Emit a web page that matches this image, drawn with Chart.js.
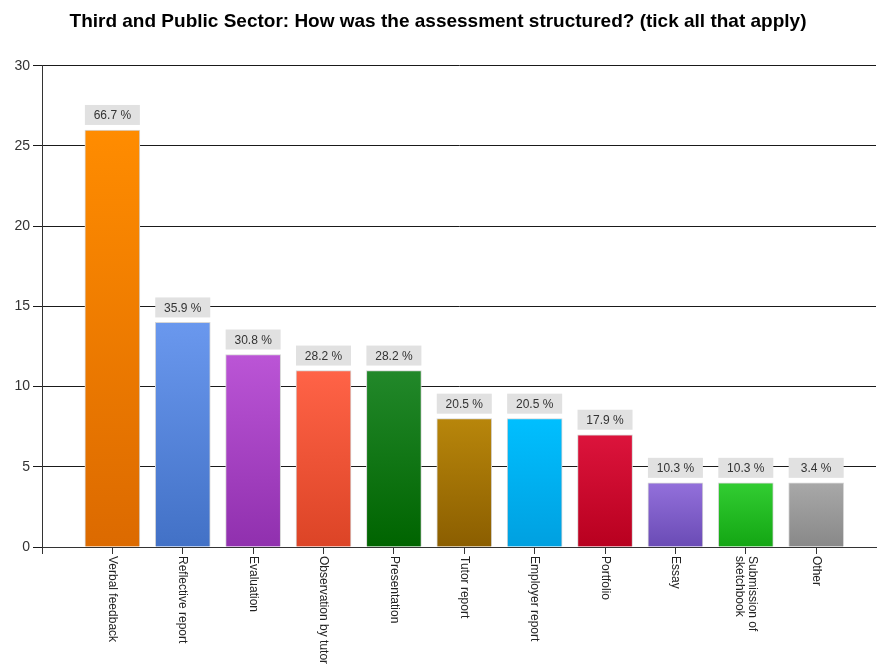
<!DOCTYPE html>
<html>
<head>
<meta charset="utf-8">
<script src="https://cdn.jsdelivr.net/npm/chart.js@4.4.1/dist/chart.umd.min.js"></script>
<style>
html,body{margin:0;padding:0;background:#fff}
#wrap{width:878px;height:669px}
</style>
</head>
<body>
<div id="wrap"><canvas id="chartEval" width="878" height="669"></canvas></div>
<script>
// --- Datos ---
var categorias=['Verbal feedback','Reflective report','Evaluation','Observation by tutor','Presentation','Tutor report','Employer report','Portfolio','Essay',['Submission of','sketchbook'],'Other'];
var respuestas=[26,14,12,11,11,8,8,7,4,4,4];
var porcentajes=['66.7 %','35.9 %','30.8 %','28.2 %','28.2 %','20.5 %','20.5 %','17.9 %','10.3 %','10.3 %','3.4 %'];
var coloresTop=['#ff8c00','#6a98ee','#bb55d6','#ff6347','#22882a','#b8860b','#00bfff','#dc143c','#9370db','#32cd32','#a8a8a8'];
var coloresBottom=['#dc6a00','#4271c6','#9030ae','#dc4426','#006400','#8b5e00','#00a0e0','#b8001f','#6a4bb5','#13a613','#888888'];
var yTicks=[0,5,10,15,20,25,30];

var FUENTE='"Liberation Sans", Arial, sans-serif';

function gradienteBarra(c){
  var chart=c.chart,i=c.dataIndex;
  if(!chart.chartArea||i===undefined)return coloresTop[i||0];
  var y=chart.scales.y;
  var g=chart.ctx.createLinearGradient(0,y.getPixelForValue(respuestas[i]),0,y.getPixelForValue(0));
  g.addColorStop(0,coloresTop[i]);
  g.addColorStop(1,coloresBottom[i]);
  return g;
}

// etiquetas de porcentaje sobre cada barra
var pluginEtiquetas={
  id:'etiquetas',
  afterDatasetsDraw:function(chart){
    var ctx=chart.ctx,meta=chart.getDatasetMeta(0);
    ctx.save();
    ctx.font='12px '+FUENTE;
    ctx.textAlign='center';ctx.textBaseline='middle';
    meta.data.forEach(function(b,i){
      var w=55,h=20,top=b.y-25;
      ctx.fillStyle='#e1e1e1';
      ctx.fillRect(b.x-w/2,top,w,h);
      ctx.fillStyle='#333';
      ctx.fillText(porcentajes[i],b.x,top+h/2+1);
    });
    ctx.restore();
  }
};

// nombres de categoria girados en sentido horario bajo el eje
var pluginCategorias={
  id:'categorias',
  afterDraw:function(chart){
    var ctx=chart.ctx,x=chart.scales.x,base=chart.chartArea.bottom+9;
    ctx.save();
    ctx.font='12px '+FUENTE;
    ctx.fillStyle='#222';
    ctx.textAlign='left';ctx.textBaseline='middle';
    categorias.forEach(function(c,i){
      var lineas=Array.isArray(c)?c:[c];
      var px=x.getPixelForValue(i+1);
      ctx.save();
      ctx.translate(px,base);
      ctx.rotate(Math.PI/2);
      lineas.forEach(function(l,k){
        var off=(k-(lineas.length-1)/2)*13;
        ctx.fillText(l,0,off);
      });
      ctx.restore();
    });
    ctx.restore();
  }
};

new Chart(document.getElementById('chartEval'),{
  type:'bar',
  data:{
    datasets:[{
      data:respuestas.map(function(v,i){return{x:i+1,y:v};}),
      backgroundColor:gradienteBarra,
      borderColor:'#d6d6d6',
      borderWidth:1,
      barThickness:55
    }]
  },
  options:{
    responsive:false,
    animation:false,
    devicePixelRatio:1,
    layout:{padding:{left:0,right:2,top:0,bottom:0}},
    plugins:{
      legend:{display:false},
      tooltip:{enabled:false},
      title:{display:true,text:'Third and Public Sector: How was the assessment structured? (tick all that apply)',
        color:'#000',font:{family:FUENTE,size:19,weight:'bold'},padding:{top:10,bottom:33}}
    },
    scales:{
      x:{
        type:'linear',min:0,max:11.85,offset:false,
        afterBuildTicks:function(s){s.ticks=[0,1,2,3,4,5,6,7,8,9,10,11].map(function(v){return{value:v};});},
        afterFit:function(s){s.height=122;},
        ticks:{callback:function(){return '';},autoSkip:false,maxRotation:0},
        grid:{display:true,offset:false,drawOnChartArea:false,drawTicks:true,tickLength:7,color:'#333'},
        border:{display:true,color:'#333',width:1}
      },
      y:{
        min:0,max:30,
        afterBuildTicks:function(s){s.ticks=yTicks.map(function(v){return{value:v};});},
        afterFit:function(s){s.width=42;},
        ticks:{color:'#333',font:{family:FUENTE,size:14},padding:3},
        grid:{color:'#1a1a1a',lineWidth:1,tickLength:9},
        border:{display:true,color:'#333',width:1}
      }
    }
  },
  plugins:[pluginEtiquetas,pluginCategorias]
});
</script>
</body>
</html>
